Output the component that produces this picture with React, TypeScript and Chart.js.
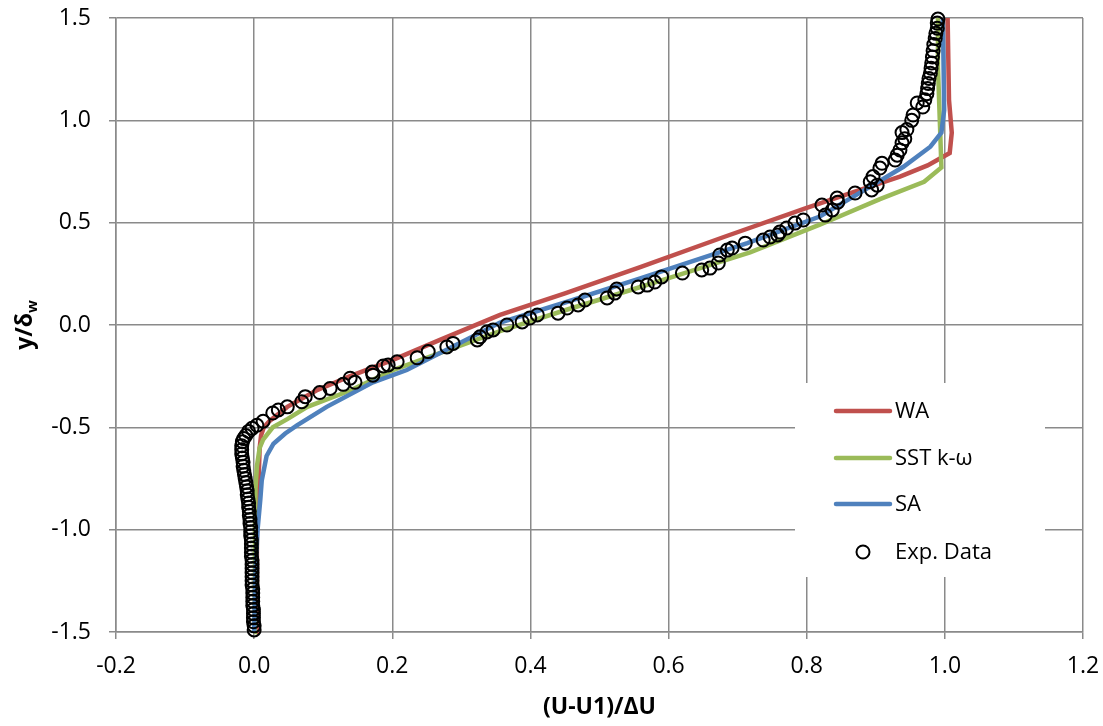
import React, { useEffect, useRef } from "react";
import { Chart, registerables } from "chart.js";

Chart.register(...registerables);

// ---------- Data ----------
const xTickValues = [-0.2, 0, 0.2, 0.4, 0.6, 0.8, 1.0, 1.2];
const xTickLabels = ["-0.2", "0.0", "0.2", "0.4", "0.6", "0.8", "1.0", "1.2"];
const yTickValues = [-1.5, -1.0, -0.5, 0, 0.5, 1.0, 1.5];
const yTickLabels = ["-1.5", "-1.0", "-0.5", "0.0", "0.5", "1.0", "1.5"];

const seriesNames = ["WA", "SST k-ω", "SA", "Exp. Data"];

const waX = [0.003, 0.004, 0.006, 0.008, 0.010, 0.014, 0.022, 0.048, 0.09, 0.139, 0.201, 0.269, 0.356, 0.45, 0.559, 0.68, 0.80, 0.873, 0.935, 0.975, 1.007, 1.010, 1.006, 1.005, 1.004];
const waY = [-1.5, -1.0, -0.8, -0.6, -0.54, -0.5, -0.47, -0.40, -0.32, -0.25, -0.17, -0.073, 0.049, 0.155, 0.283, 0.43, 0.572, 0.655, 0.725, 0.78, 0.84, 0.94, 1.1, 1.3, 1.5];

const sstX = [0.0, 0.001, 0.002, 0.004, 0.008, 0.013, 0.027, 0.048, 0.077, 0.139, 0.201, 0.356, 0.45, 0.55, 0.607, 0.718, 0.819, 0.906, 0.97, 0.995, 0.993, 0.99, 0.99];
const sstY = [-1.5, -1.0, -0.8, -0.69, -0.6, -0.56, -0.5, -0.46, -0.40, -0.32, -0.22, -0.03, 0.072, 0.176, 0.236, 0.355, 0.49, 0.615, 0.70, 0.77, 0.97, 1.26, 1.5];

const saX = [0.0, 0.002, 0.005, 0.009, 0.011, 0.018, 0.028, 0.045, 0.062, 0.105, 0.172, 0.221, 0.356, 0.45, 0.559, 0.714, 0.819, 0.892, 0.94, 0.979, 0.995, 0.999, 0.998, 0.997];
const saY = [-1.5, -1.2, -1.0, -0.85, -0.76, -0.64, -0.58, -0.53, -0.49, -0.40, -0.28, -0.22, 0.012, 0.11, 0.228, 0.40, 0.53, 0.676, 0.773, 0.871, 0.94, 1.05, 1.3, 1.5];

const expX = [
  0.0, 0.0, -0.001, -0.001, -0.001, -0.001, -0.002, -0.002, -0.002, -0.002,
  -0.002, -0.003, -0.003, -0.003, -0.003, -0.003, -0.003, -0.003, -0.004, -0.004,
  -0.004, -0.004, -0.004, -0.005, -0.005, -0.005, -0.006, -0.006, -0.007, -0.007,
  -0.008, -0.008, -0.009, -0.010, -0.010, -0.011, -0.012, -0.013, -0.014, -0.015,
  -0.016, -0.016, -0.017, -0.018, -0.018, -0.018, -0.017, -0.015, -0.012, -0.008,
  -0.003, 0.004, 0.013, 0.027, 0.035, 0.048, 0.069, 0.074, 0.095, 0.110,
  0.129, 0.146, 0.139, 0.172, 0.171, 0.187, 0.194, 0.207, 0.236, 0.252,
  0.279, 0.288, 0.323, 0.327, 0.337, 0.346, 0.366, 0.388, 0.399, 0.410,
  0.440, 0.453, 0.469, 0.479, 0.511, 0.522, 0.525, 0.556, 0.569, 0.580,
  0.590, 0.620, 0.648, 0.660, 0.672, 0.674, 0.685, 0.692, 0.711, 0.737,
  0.747, 0.758, 0.761, 0.771, 0.783, 0.795, 0.822, 0.827, 0.837, 0.845,
  0.844, 0.870, 0.892, 0.894, 0.902, 0.896, 0.906, 0.909, 0.928, 0.931,
  0.935, 0.938, 0.942, 0.938, 0.945, 0.952, 0.954, 0.968, 0.960, 0.971,
  0.974, 0.975, 0.976, 0.977, 0.979, 0.980, 0.981, 0.982, 0.983, 0.984,
  0.986, 0.987, 0.989, 0.989, 0.990
];
const expY = [
  -1.49, -1.47, -1.45, -1.43, -1.41, -1.39, -1.37, -1.35, -1.33, -1.31,
  -1.29, -1.27, -1.25, -1.23, -1.21, -1.19, -1.17, -1.15, -1.13, -1.11,
  -1.09, -1.07, -1.05, -1.03, -1.01, -0.99, -0.97, -0.95, -0.93, -0.91,
  -0.89, -0.87, -0.85, -0.83, -0.81, -0.79, -0.77, -0.75, -0.73, -0.71,
  -0.69, -0.67, -0.65, -0.63, -0.61, -0.59, -0.57, -0.555, -0.54, -0.52,
  -0.505, -0.49, -0.47, -0.43, -0.415, -0.40, -0.375, -0.35, -0.33, -0.31,
  -0.29, -0.28, -0.26, -0.245, -0.23, -0.20, -0.195, -0.18, -0.16, -0.13,
  -0.107, -0.09, -0.073, -0.058, -0.034, -0.024, 0.0, 0.015, 0.034, 0.049,
  0.058, 0.083, 0.098, 0.122, 0.132, 0.156, 0.176, 0.186, 0.195, 0.21,
  0.235, 0.254, 0.269, 0.278, 0.303, 0.342, 0.366, 0.376, 0.40, 0.415,
  0.43, 0.44, 0.454, 0.474, 0.498, 0.513, 0.586, 0.537, 0.562, 0.60,
  0.62, 0.645, 0.70, 0.66, 0.683, 0.725, 0.767, 0.79, 0.806, 0.83,
  0.855, 0.89, 0.91, 0.94, 0.955, 1.0, 1.026, 1.065, 1.085, 1.10,
  1.13, 1.155, 1.18, 1.205, 1.23, 1.255, 1.28, 1.31, 1.34, 1.37,
  1.40, 1.425, 1.45, 1.475, 1.495
];

const colors = ["#C0504D", "#9BBB59", "#4F81BD", "#000000"];

const FONT = "'Open Sans', 'DejaVu Sans', sans-serif";
const GRID = "#8a8a8a";

const toPts = (xs: number[], ys: number[]) => xs.map((x, i) => ({ x, y: ys[i] }));

const overlayPlugin = {
  id: "overlay",
  afterDraw(chart: any) {
    const ctx = chart.ctx as CanvasRenderingContext2D;
    const ca = chart.chartArea;
    ctx.save();

    // Legend box (inside the plot area)
    const bx = ca.left + 679;
    const by = ca.top + 365;
    const bw = 250;
    const bh = 194;
    ctx.fillStyle = "#ffffff";
    ctx.fillRect(bx, by, bw, bh);
    const rows = [28, 75, 121, 169];
    ctx.font = `22px ${FONT}`;
    ctx.textBaseline = "middle";
    ctx.textAlign = "left";
    for (let i = 0; i < 4; i++) {
      const yy = by + rows[i];
      if (i < 3) {
        ctx.strokeStyle = colors[i];
        ctx.lineWidth = 4.5;
        ctx.lineCap = "round";
        ctx.beginPath();
        ctx.moveTo(bx + 41, yy);
        ctx.lineTo(bx + 95, yy);
        ctx.stroke();
      } else {
        ctx.strokeStyle = "#000";
        ctx.lineWidth = 2;
        ctx.beginPath();
        ctx.arc(bx + 68, yy, 6.5, 0, Math.PI * 2);
        ctx.stroke();
      }
      ctx.fillStyle = "#000";
      ctx.fillText(seriesNames[i], bx + 100, yy + 1);
    }

    // X axis title
    ctx.font = `bold 23px ${FONT}`;
    ctx.textAlign = "center";
    ctx.textBaseline = "middle";
    ctx.fillText("(U-U1)/ΔU", (ca.left + ca.right) / 2, ca.bottom + 75);

    // Y axis title with subscript
    ctx.translate(32, (ca.top + ca.bottom) / 2);
    ctx.rotate(-Math.PI / 2);
    ctx.textBaseline = "alphabetic";
    const main = "y/δ";
    ctx.font = `bold 15px ${FONT}`;
    const subW = ctx.measureText("w").width;
    ctx.font = `bold 23px ${FONT}`;
    const mainW = ctx.measureText(main).width;
    const total = mainW + subW;
    ctx.textAlign = "left";
    ctx.fillText(main, -total / 2, 0);
    ctx.font = `bold 15px ${FONT}`;
    ctx.fillText("w", -total / 2 + mainW, 5);

    ctx.restore();
  },
};

export default function App() {
  const ref = useRef<HTMLCanvasElement | null>(null);

  useEffect(() => {
    if (!ref.current) return;
    const chart = new Chart(ref.current, {
      type: "scatter",
      data: {
        datasets: [
          {
            label: seriesNames[0],
            data: toPts(waX, waY),
            showLine: true,
            borderColor: colors[0],
            borderWidth: 4.5,
            pointRadius: 0,
            tension: 0,
            order: 3,
            clip: false,
          },
          {
            label: seriesNames[1],
            data: toPts(sstX, sstY),
            showLine: true,
            borderColor: colors[1],
            borderWidth: 4.5,
            pointRadius: 0,
            tension: 0,
            order: 2,
            clip: false,
          },
          {
            label: seriesNames[2],
            data: toPts(saX, saY),
            showLine: true,
            borderColor: colors[2],
            borderWidth: 4.5,
            pointRadius: 0,
            tension: 0,
            order: 1,
            clip: false,
          },
          {
            label: seriesNames[3],
            data: toPts(expX, expY),
            showLine: false,
            pointStyle: "circle",
            pointRadius: 6.5,
            borderWidth: 2,
            borderColor: "#000",
            backgroundColor: "rgba(0,0,0,0)",
            order: 0,
            clip: false,
          },
        ],
      } as any,
      options: {
        responsive: false,
        animation: false,
        layout: { padding: { top: 18, right: 20, left: 0, bottom: 0 } },
        plugins: {
          legend: { display: false },
          tooltip: { enabled: false },
        },
        scales: {
          x: {
            type: "linear",
            min: -0.2,
            max: 1.2,
            afterBuildTicks: (scale: any) => {
              scale.ticks = xTickValues.map((v) => ({ value: v }));
            },
            afterFit: (scale: any) => {
              scale.height = 94;
              scale.paddingLeft = 0;
              scale.paddingRight = 0;
            },
            grid: { color: GRID, lineWidth: 1.5, tickLength: 7, drawTicks: true },
            border: { color: GRID, width: 1.5 },
            ticks: {
              padding: 14,
              color: "#000",
              font: { family: FONT, size: 23 },
              maxRotation: 0,
              autoSkip: false,
              callback: (_v: any, i: number) => xTickLabels[i],
            },
          },
          y: {
            type: "linear",
            min: -1.5,
            max: 1.5,
            afterBuildTicks: (scale: any) => {
              scale.ticks = yTickValues.map((v) => ({ value: v }));
            },
            afterFit: (scale: any) => {
              scale.width = 116;
              scale.paddingTop = 0;
              scale.paddingBottom = 0;
            },
            grid: { color: GRID, lineWidth: 1.5, tickLength: 7, drawTicks: true },
            border: { color: GRID, width: 1.5 },
            ticks: {
              padding: 18,
              color: "#000",
              font: { family: FONT, size: 23 },
              autoSkip: false,
              callback: (_v: any, i: number) => yTickLabels[i],
            },
          },
        },
      } as any,
      plugins: [overlayPlugin],
    });
    return () => chart.destroy();
  }, []);

  return (
    <div style={{ position: "fixed", left: 0, top: 0, width: 1103, height: 726, background: "#fff" }}>
      <canvas ref={ref} width={1103} height={726} />
    </div>
  );
}
